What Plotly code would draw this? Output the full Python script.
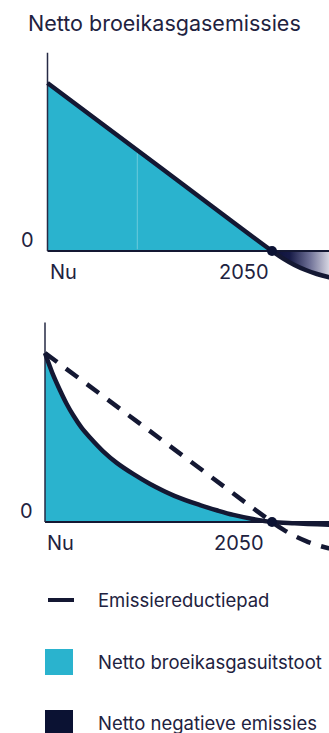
import numpy as np
import plotly.graph_objects as go

# ---- data -------------------------------------------------------------
# x: 0 = "Nu", 1 = 2050 ; y: emissions relative to today (1 = today)
path_x = [0.0, 0.5, 1.0, 1.05, 1.10, 1.15, 1.20, 1.25, 1.30]
path_y = [1.0, 0.5, 0.0, -0.045, -0.083, -0.113, -0.137, -0.155, -0.168]

curve_x = [0.0, 0.033, 0.066, 0.095, 0.125, 0.16, 0.198, 0.255, 0.316, 0.39, 0.463,
           0.57, 0.683, 0.76, 0.83, 0.915, 1.0, 1.10, 1.20, 1.30]
curve_y = [1.0, 0.88, 0.78, 0.70, 0.63, 0.56, 0.50, 0.42, 0.35, 0.283, 0.225,
           0.155, 0.10, 0.068, 0.042, 0.018, 0.0, -0.008, -0.014, -0.019]

seam_x = 0.4
axis_top = 1.18

tick_zero = "0"
tick_now = "Nu"
tick_2050 = "2050"
title_text = "Netto broeikasgasemissies"
legend_labels = ["Emissiereductiepad", "Netto broeikasgasuitstoot", "Netto negatieve emissies"]

# ---- style ------------------------------------------------------------
TEAL = "#2ab3ce"
NAVY = "#141833"
DOT = "#0b1233"
TEXT = "#1e2240"
FONT = "Inter"
W, H = 329, 733

GRAD = [[0.0, "#0d1137"], [0.3, "#161a46"], [0.65, "#6f7197"], [1.0, "#dcdce6"]]
SPLINE = dict(shape="spline", smoothing=1.0)


def px(x):
    return x / W


def py(y):
    return 1 - y / H


fig = go.Figure()


def add_panel(xa, ya, xs, ys, dashed_path=None):
    xs = np.asarray(xs)
    ys = np.asarray(ys)
    pos = xs <= 1.0
    neg = xs >= 1.0
    # positive emissions area
    fig.add_trace(go.Scatter(x=xs[pos], y=ys[pos], mode="lines", fill="tozeroy",
                             fillcolor=TEAL, line=dict(width=0, **SPLINE),
                             xaxis=xa, yaxis=ya, hoverinfo="skip"))
    # net negative area with horizontal fade
    fig.add_trace(go.Scatter(x=xs[neg], y=ys[neg], mode="lines", fill="tozeroy",
                             fillgradient=dict(type="horizontal", colorscale=GRAD,
                                               start=1.0, stop=1.26),
                             line=dict(width=0, **SPLINE),
                             xaxis=xa, yaxis=ya, hoverinfo="skip"))
    # baseline and vertical axis
    fig.add_trace(go.Scatter(x=[0, xs.max()], y=[0, 0], mode="lines",
                             line=dict(color=NAVY, width=2), xaxis=xa, yaxis=ya, hoverinfo="skip"))
    fig.add_trace(go.Scatter(x=[0, 0], y=[0, axis_top], mode="lines",
                             line=dict(color="#262a45", width=1.5), xaxis=xa, yaxis=ya, hoverinfo="skip"))
    if dashed_path is not None:
        dx, dy = dashed_path
        fig.add_trace(go.Scatter(x=dx, y=dy, mode="lines",
                                 line=dict(color=NAVY, width=4.5, dash="15px,11px", **SPLINE),
                                 xaxis=xa, yaxis=ya, hoverinfo="skip"))
    fig.add_trace(go.Scatter(x=xs, y=ys, mode="lines",
                             line=dict(color=NAVY, width=4.5, **SPLINE),
                             xaxis=xa, yaxis=ya, hoverinfo="skip"))
    # net-zero point
    fig.add_trace(go.Scatter(x=[1.0], y=[0.0], mode="markers",
                             marker=dict(color=DOT, size=10), xaxis=xa, yaxis=ya,
                             hoverinfo="skip", cliponaxis=False))


# top panel: straight reduction path
add_panel("x", "y", path_x, path_y)
seam_top = float(np.interp(seam_x, path_x, path_y))
fig.add_trace(go.Scatter(x=[seam_x, seam_x], y=[0.01, seam_top - 0.02], mode="lines",
                         line=dict(color="#6ccadd", width=1), xaxis="x", yaxis="y",
                         hoverinfo="skip"))

# bottom panel: faster reduction curve against the reduction path
add_panel("x2", "y2", curve_x, curve_y, dashed_path=(path_x, path_y))

# axes (hidden, used for scaling only)
top_x0, top_x1 = 47.5, 272.0
bot_x0, bot_x1 = 45.0, 272.0
top_scale = top_x1 - top_x0
bot_scale = bot_x1 - bot_x0
top_base, top_unit = 251.0, 168.0
bot_base, bot_unit = 522.0, 169.0

left_pad = 8.0
common = dict(visible=False, showgrid=False, zeroline=False, fixedrange=True)
fig.update_layout(
    xaxis=dict(domain=[px(top_x0 - left_pad), 1],
               range=[-left_pad / top_scale, (W - top_x0) / top_scale], anchor="y", **common),
    yaxis=dict(domain=[py(300), py(48)],
               range=[(top_base - 300) / top_unit, (top_base - 48) / top_unit], anchor="x", **common),
    xaxis2=dict(domain=[px(bot_x0 - left_pad), 1],
                range=[-left_pad / bot_scale, (W - bot_x0) / bot_scale], anchor="y2", **common),
    yaxis2=dict(domain=[py(572), py(318)],
                range=[(bot_base - 572) / bot_unit, (bot_base - 318) / bot_unit], anchor="x2", **common),
)

ann = []
# title
ann.append(dict(text=title_text, x=px(164), y=py(23), xref="paper", yref="paper",
                xanchor="center", yanchor="middle", showarrow=False,
                font=dict(family=FONT, size=21.5, color=TEXT)))
# tick labels
for xa, ya, sh0, sh2050, ylab in [("x", "y", -12, -1, 272), ("x2", "y2", -10, -6, 543)]:
    base = top_base if xa == "x" else bot_base
    ann.append(dict(text=tick_zero, x=0, y=0, xref=xa, yref=ya, xanchor="right", yanchor="bottom",
                    xshift=sh0, yshift=-3, showarrow=False, font=dict(family=FONT, size=20, color=TEXT)))
    ann.append(dict(text=tick_now, x=0, y=0, xref=xa, yref=ya, xanchor="left", yanchor="middle",
                    yshift=-(ylab - base), showarrow=False, font=dict(family=FONT, size=20, color=TEXT)))
    ann.append(dict(text=tick_2050, x=1, y=0, xref=xa, yref=ya, xanchor="right", yanchor="middle",
                    xshift=sh2050, yshift=-(ylab - base), showarrow=False,
                    font=dict(family=FONT, size=20, color=TEXT)))

# legend
legend_y = [600, 662, 723]
for label, yc in zip(legend_labels, legend_y):
    ann.append(dict(text=label, x=px(96), y=py(yc), xref="paper", yref="paper",
                    xanchor="left", yanchor="middle", showarrow=False,
                    font=dict(family=FONT, size=18.5, color=TEXT)))

shapes = [
    dict(type="line", xref="paper", yref="paper", x0=px(48), x1=px(74), y0=py(600), y1=py(600),
         line=dict(color=NAVY, width=4)),
    dict(type="rect", xref="paper", yref="paper", x0=px(45), x1=px(73), y0=py(675), y1=py(649),
         fillcolor=TEAL, line=dict(width=0)),
    dict(type="rect", xref="paper", yref="paper", x0=px(45), x1=px(73), y0=py(737), y1=py(710),
         fillcolor=DOT, line=dict(width=0)),
]

fig.update_layout(
    width=W, height=H, margin=dict(l=0, r=0, t=0, b=0),
    paper_bgcolor="white", plot_bgcolor="white", showlegend=False,
    annotations=ann, shapes=shapes,
)

fig.write_html("out.html", config={"displayModeBar": False})
